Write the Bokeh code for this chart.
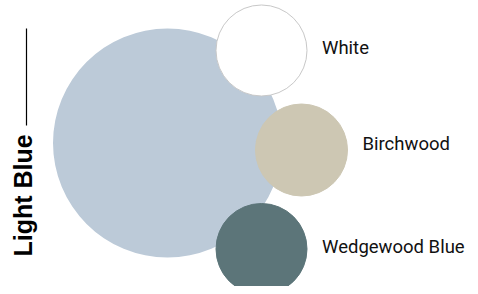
import numpy as np
from bokeh.plotting import figure
from bokeh.models import ColumnDataSource, Range1d
from bokeh.core.properties import value
from bokeh.embed import file_html
from bokeh.resources import INLINE

# Main colour
main_name = "Light Blue"
main_x = [167]
main_y = [143.5]
main_r = [114.5]
main_color = ["#bccad8"]

# Companion colours
names = ["White", "Birchwood", "Wedgewood Blue"]
cx = [261, 301, 261]
cy = [236, 136.5, 37.5]
cr = [45.5, 46, 45.5]
fills = ["#ffffff", "#cdc7b3", "#5c7579"]
strokes = ["#c8c8c8", "#cdc7b3", "#5c7579"]

W, H = 470, 286
p = figure(width=W, height=H, output_backend="svg", toolbar_location=None,
           x_range=Range1d(0, W), y_range=Range1d(0, H), min_border=0)
p.axis.visible = False
p.grid.visible = False
p.outline_line_color = None
p.background_fill_color = "white"
p.border_fill_color = "white"

p.circle(x=main_x, y=main_y, radius=main_r, fill_color=main_color, line_color=None)

label_dy = [3, 6, 2]
src = ColumnDataSource(dict(x=cx, y=cy, r=cr, fill=fills, stroke=strokes, name=names,
                            lx=[a + b + 15 for a, b in zip(cx, cr)],
                            ly=[a + d for a, d in zip(cy, label_dy)]))
p.circle(x="x", y="y", radius="r", fill_color="fill", line_color="stroke", line_width=1, source=src)
p.text(x="lx", y="ly", text="name", source=src, text_font=value("Roboto"),
       text_font_size="18.5px", text_color="#111111", text_baseline="middle", text_align="left")

# Vertical title with rule line
top = main_y[0] + main_r[0]
bottom = main_y[0] - main_r[0]
tx = main_x[0] - main_r[0] - 30
p.text(x=[tx], y=[bottom + 1], text=[main_name], angle=np.pi / 2, text_font=value("Liberation Sans"),
       text_font_style="bold", text_font_size="25px", text_color="#000000",
       text_baseline="middle", text_align="left")
p.segment(x0=[tx + 3.5], y0=[top], x1=[tx + 3.5], y1=[top - 97], line_color="#000000", line_width=1.2)

open("out.html", "w").write(file_html(p, INLINE))
